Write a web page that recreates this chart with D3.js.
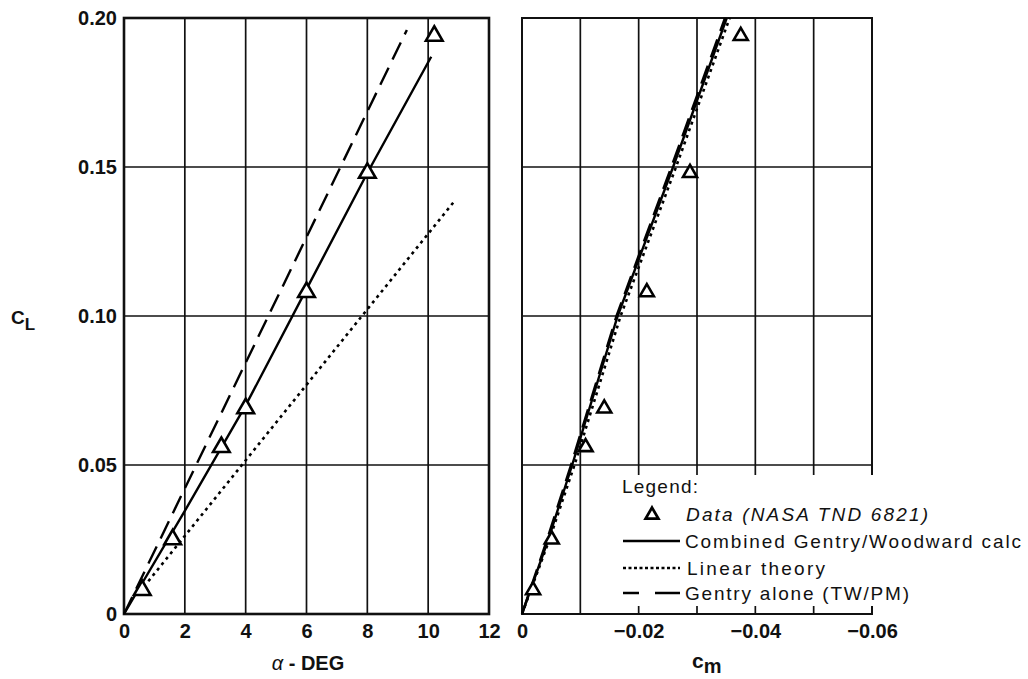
<!DOCTYPE html>
<html>
<head>
<meta charset="utf-8">
<script src="https://cdn.jsdelivr.net/npm/d3@7"></script>
<style>
  html, body { margin: 0; padding: 0; background: #fff; }
  svg { display: block; }
  text { font-family: "Liberation Sans", Arial, Helvetica, sans-serif; fill: #111; }
</style>
</head>
<body>
<svg id="chart" width="1028" height="679"></svg>
<script>
// Wind-tunnel data (NASA TN D-6821): angle of attack, lift and pitching moment
const alphaData = [0.6, 1.6, 3.2, 4.0, 6.0, 8.0, 10.2];
const clData    = [0.008, 0.025, 0.056, 0.069, 0.108, 0.148, 0.194];
const cmData    = [-0.0019, -0.0051, -0.0109, -0.0141, -0.0214, -0.0288, -0.0375];

// Predicted C_L vs alpha
const combinedAlpha = [0, 2, 4, 6, 8, 10.1];
const combinedCL    = [0, 0.0346, 0.070, 0.109, 0.148, 0.187];
const linearAlpha   = [0.8, 10.9];
const linearCL      = [0.011, 0.139];
const gentryAlpha   = [0, 9.3];
const gentryCL      = [0, 0.196];

// Predicted C_L vs C_m
const curveCL      = [0, 0.025, 0.05, 0.10, 0.15, 0.20];
const combinedCm   = [0, -0.0045, -0.0086, -0.0164, -0.0259, -0.0351];
const linearCm     = [0, -0.0047, -0.0090, -0.0169, -0.0264, -0.0356];
const gentryCm     = [0, -0.0043, -0.0084, -0.0162, -0.0256, -0.0348];

// Axis ticks
const clTicks     = [0, 0.05, 0.10, 0.15, 0.20];
const clLabels    = ["0", "0.05", "0.10", "0.15", "0.20"];
const alphaTicks  = [0, 2, 4, 6, 8, 10, 12];
const cmGrid      = [0, -0.01, -0.02, -0.03, -0.04, -0.05, -0.06];
const cmTicks     = [0, -0.02, -0.04, -0.06];
const cmLabels    = ["0", "\u22120.02", "\u22120.04", "\u22120.06"];

const legendItems = ["Data (NASA TND 6821)", "Combined Gentry/Woodward calc", "Linear theory", "Gentry alone (TW/PM)"];

const svg = d3.select("#chart");

const y  = d3.scaleLinear().domain([0, 0.2]).range([614, 18]);
const xA = d3.scaleLinear().domain([0, 12]).range([124, 489]);
const xM = d3.scaleLinear().domain([0, -0.06]).range([522, 872]);

const gridColor = "#111";
const styles = {
  solid:  { dash: null,   width: 2.4 },
  dotted: { dash: "3,4",  width: 2.6 },
  dashed: { dash: "19,9", width: 2.4 }
};

function panel(x, xGrid) {
  const g = svg.append("g");
  // vertical grid
  g.selectAll("line.v").data(xGrid).enter().append("line")
    .attr("x1", d => x(d)).attr("x2", d => x(d))
    .attr("y1", y(0)).attr("y2", y(0.2))
    .attr("stroke", gridColor).attr("stroke-width", 1.7);
  // horizontal grid
  g.selectAll("line.h").data(clTicks).enter().append("line")
    .attr("x1", x.range()[0]).attr("x2", x.range()[1])
    .attr("y1", d => y(d)).attr("y2", d => y(d))
    .attr("stroke", gridColor).attr("stroke-width", 1.6);
  // frame
  g.append("rect")
    .attr("x", x.range()[0]).attr("y", y(0.2))
    .attr("width", x.range()[1] - x.range()[0]).attr("height", y(0) - y(0.2))
    .attr("fill", "none").attr("stroke", gridColor).attr("stroke-width", 2);
  return g;
}

function drawLine(g, x, xs, ys, st) {
  const pts = xs.map((d, i) => [x(d), y(ys[i])]);
  g.append("path")
    .attr("d", d3.line()(pts))
    .attr("fill", "none").attr("stroke", "#000")
    .attr("stroke-width", st.width)
    .attr("stroke-dasharray", st.dash);
}

function drawMarkers(g, x, xs, ys, size) {
  const tri = d3.symbol().type(d3.symbolTriangle).size(size);
  g.selectAll("path.m").data(xs).enter().append("path")
    .attr("transform", (d, i) => `translate(${x(d)},${y(ys[i])})`)
    .attr("d", tri)
    .attr("fill", "#fff").attr("stroke", "#000").attr("stroke-width", 2.6);
}

function styleTicks(sel) {
  sel.select(".domain").remove();
  sel.selectAll("text").attr("font-size", 20).attr("font-weight", "bold")
    .attr("font-family", "'Liberation Sans', Arial, sans-serif").attr("fill", "#111");
}

// ---- Left panel: C_L vs alpha ----
const left = panel(xA, alphaTicks);
left.select("rect").attr("stroke-width", 2.6);
drawLine(left, xA, linearAlpha, linearCL, styles.dotted);
drawLine(left, xA, gentryAlpha, gentryCL, styles.dashed);
drawLine(left, xA, combinedAlpha, combinedCL, styles.solid);
drawMarkers(left, xA, alphaData, clData, 120);

// C_L axis labels
const yAxis = d3.axisLeft(y).tickValues(clTicks)
  .tickFormat((d, i) => clLabels[i]).tickSize(0).tickPadding(7);
styleTicks(svg.append("g").attr("transform", `translate(${xA(0)},0)`).call(yAxis));

// alpha axis labels
const xAxA = d3.axisBottom(xA).tickValues(alphaTicks).tickFormat(d3.format("d"))
  .tickSize(0).tickPadding(10);
styleTicks(svg.append("g").attr("transform", `translate(0,${y(0)})`).call(xAxA));

// ---- Right panel: C_L vs C_m ----
const right = panel(xM, cmGrid);

// legend area clears the grid behind it
right.append("rect")
  .attr("x", xM(-0.015)).attr("y", y(0.05) + 10)
  .attr("width", xM(-0.06) - xM(-0.015) + 4).attr("height", y(0) - 8 - (y(0.05) + 10))
  .attr("fill", "#fff");

drawLine(right, xM, linearCm, curveCL, styles.dotted);
drawLine(right, xM, gentryCm, curveCL, styles.dashed);
drawLine(right, xM, combinedCm, curveCL, styles.solid);
drawMarkers(right, xM, cmData, clData, 85);

const xAxM = d3.axisBottom(xM).tickValues(cmTicks)
  .tickFormat((d, i) => cmLabels[i]).tickSize(0).tickPadding(10);
styleTicks(svg.append("g").attr("transform", `translate(0,${y(0)})`).call(xAxM));

// ---- Axis titles ----
const at = svg.append("text").attr("x", 308).attr("y", 670).attr("text-anchor", "middle")
  .attr("font-size", 20);
at.append("tspan").attr("font-style", "italic").text("\u03B1");
at.append("tspan").attr("font-weight", "bold").text(" - DEG");

const cmT = svg.append("text").attr("x", 692).attr("y", 668).attr("font-size", 21).attr("font-weight", "bold");
cmT.append("tspan").text("c");
cmT.append("tspan").attr("dy", 5).attr("font-size", 20).text("m");

const clT = svg.append("text").attr("x", 11).attr("y", 324).attr("font-size", 19).attr("font-weight", "bold");
clT.append("tspan").text("C");
clT.append("tspan").attr("dy", 6).attr("font-size", 17).text("L");

// ---- Legend ----
const lg = svg.append("g").attr("font-size", 19);
lg.append("text").attr("x", 622).attr("y", 493)
  .attr("textLength", 76).attr("lengthAdjust", "spacing").text("Legend:");
const rowY = [514, 541, 568, 593];
const textX = [686, 685, 687, 685];
const textW = [242, 336, 138, 224];
const sx0 = 623, sx1 = 680;

lg.append("path")
  .attr("transform", `translate(652,${rowY[0] + 1})`)
  .attr("d", d3.symbol().type(d3.symbolTriangle).size(70))
  .attr("fill", "#fff").attr("stroke", "#000").attr("stroke-width", 2.8);

const legendStyles = [null, styles.solid, { dash: "3,2.5", width: 2.4 }, { dash: "16,16,25", width: 2.6 }];
legendStyles.forEach((st, i) => {
  if (!st) return;
  lg.append("line").attr("x1", sx0).attr("x2", sx1)
    .attr("y1", rowY[i]).attr("y2", rowY[i])
    .attr("stroke", "#000").attr("stroke-width", st.width)
    .attr("stroke-dasharray", st.dash);
});

legendItems.forEach((t, i) => {
  const tt = lg.append("text").attr("x", textX[i]).attr("y", rowY[i] + 7)
    .attr("textLength", textW[i]).attr("lengthAdjust", "spacing");
  if (i === 0) tt.attr("font-style", "italic");
  tt.text(t);
});
</script>
</body>
</html>
